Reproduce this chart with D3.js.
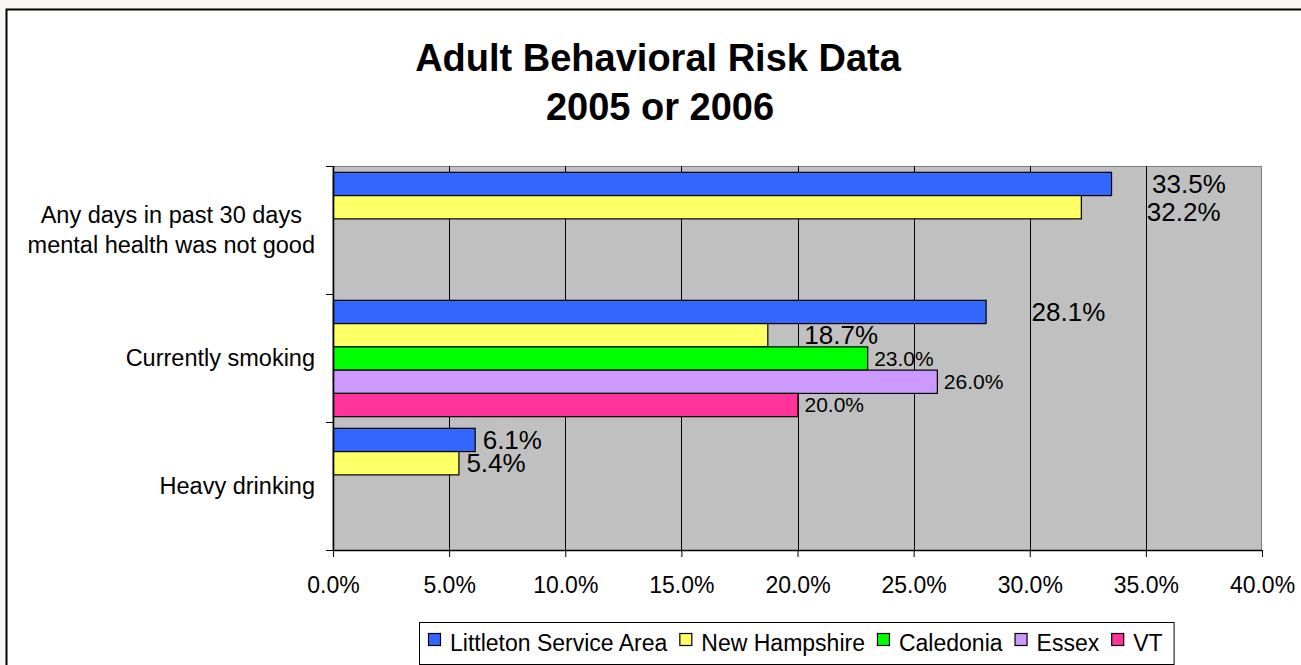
<!DOCTYPE html>
<html>
<head>
<meta charset="utf-8">
<script src="https://cdn.jsdelivr.net/npm/d3@7"></script>
<style>
  html, body { margin: 0; padding: 0; background: #f7f6f4; }
  svg { display: block; font-family: "Liberation Sans", Arial, sans-serif; }
</style>
</head>
<body>
<svg id="chart" width="1301" height="665"></svg>
<script>
// ---- data ----
const titleLines = ["Adult Behavioral Risk Data", "2005 or 2006"];
const categories = ["Any days in past 30 days\nmental health was not good", "Currently smoking", "Heavy drinking"];
const seriesNames = ["Littleton Service Area", "New Hampshire", "Caledonia", "Essex", "VT"];
const littleton    = [0.335, 0.281, 0.061];
const newHampshire = [0.322, 0.187, 0.054];
const caledonia    = [null, 0.230, null];
const essex        = [null, 0.260, null];
const vt           = [null, 0.200, null];
const tickValues = [0, 0.05, 0.10, 0.15, 0.20, 0.25, 0.30, 0.35, 0.40];

// ---- styles ----
const seriesColors = ["#3366FF", "#FFFF66", "#00FF00", "#CC99FF", "#FF3399"];
const labelFont = [26, 26, 21, 21, 21];
// manual label nudges (px) per series, per category
const labelDx = [[41, 46, 8], [66, 37, 8], [7, 7, 7], [7, 7, 7], [7, 7, 7]];
const labelDy = [[0, 0, 0], [5, 0, 0], [0, 0, 0], [0, 0, 0], [0, 0, 0]];

const seriesValues = [littleton, newHampshire, caledonia, essex, vt];

const svg = d3.select("#chart");

// chart area (white with black border)
svg.append("rect").attr("x", 6.5).attr("y", 9.5).attr("width", 1300).attr("height", 660)
  .attr("fill", "#ffffff").attr("stroke", "#000").attr("stroke-width", 2);

const plot = { left: 333, right: 1262, top: 166, bottom: 550 };

const x = d3.scaleLinear().domain([0, 0.4]).range([plot.left, plot.right]);
const y0 = d3.scaleBand().domain(categories).range([plot.top, plot.bottom]).padding(0);
const y1 = d3.scaleBand().domain(seriesNames).range([0, y0.bandwidth()]).paddingInner(0).paddingOuter(0.25);

// plot background
svg.append("rect").attr("x", plot.left).attr("y", plot.top + 0.5)
  .attr("width", plot.right - plot.left - 0.5).attr("height", plot.bottom - plot.top)
  .attr("fill", "#C0C0C0").attr("stroke", "#808080").attr("stroke-width", 1);

// gridlines
svg.append("g").selectAll("line").data(tickValues.filter(t => t > 0 && t < 0.4)).join("line")
  .attr("x1", d => Math.round(x(d)) + 0.5).attr("x2", d => Math.round(x(d)) + 0.5)
  .attr("y1", plot.top).attr("y2", plot.bottom)
  .attr("stroke", "#000").attr("stroke-width", 1);

// bars
const barData = [];
seriesValues.forEach((vals, si) => {
  vals.forEach((v, ci) => {
    if (v !== null) barData.push({ s: si, c: ci, v: v });
  });
});

svg.append("g").selectAll("rect").data(barData).join("rect")
  .attr("x", x(0) + 0.5)
  .attr("y", d => y0(categories[d.c]) + y1(seriesNames[d.s]) + 0.5)
  .attr("width", d => x(d.v) - x(0))
  .attr("height", y1.bandwidth())
  .attr("fill", d => seriesColors[d.s])
  .attr("stroke", "#000").attr("stroke-width", 1.2);

// data labels
svg.append("g").selectAll("text").data(barData).join("text")
  .attr("x", d => x(d.v) + labelDx[d.s][d.c])
  .attr("y", d => y0(categories[d.c]) + y1(seriesNames[d.s]) + y1.bandwidth() / 2 + 0.36 * labelFont[d.s] + labelDy[d.s][d.c])
  .attr("font-size", d => labelFont[d.s])
  .attr("fill", "#000")
  .text(d => d3.format(".1%")(d.v));

// x axis
const xAxis = d3.axisBottom(x).tickValues(tickValues).tickFormat(d3.format(".1%")).tickSize(7).tickPadding(20);
const gx = svg.append("g").attr("transform", `translate(0,${plot.bottom})`).call(xAxis);
gx.select(".domain").attr("stroke", "#000").attr("stroke-width", 1.5).attr("d", `M${plot.left},0.5H${plot.right}`);
gx.selectAll(".tick line").attr("stroke", "#000");
gx.selectAll(".tick text").attr("font-size", 23).attr("font-family", "Liberation Sans, Arial, sans-serif").attr("fill", "#000");

// y axis (category boundaries ticks)
svg.append("line").attr("x1", plot.left + 0.5).attr("x2", plot.left + 0.5)
  .attr("y1", plot.top).attr("y2", plot.bottom).attr("stroke", "#000").attr("stroke-width", 1.5);
const boundaries = categories.map(c => y0(c)).concat([plot.bottom]);
svg.append("g").selectAll("line").data(boundaries).join("line")
  .attr("x1", plot.left - 7).attr("x2", plot.left)
  .attr("y1", d => Math.round(d) + 0.5).attr("y2", d => Math.round(d) + 0.5)
  .attr("stroke", "#000").attr("stroke-width", 1);

// category labels: block right-aligned at 315, lines centered within block
const catG = svg.append("g");
const labelRight = 315;
categories.forEach(c => {
  const lines = c.split("\n");
  const cy = y0(c) + y0.bandwidth() / 2;
  const lh = 30;
  const nodes = lines.map((ln, i) => catG.append("text")
      .attr("y", cy + (i - (lines.length - 1) / 2) * lh + 8)
      .attr("text-anchor", "middle")
      .attr("font-size", 23.5)
      .attr("fill", "#000")
      .text(ln));
  const maxW = d3.max(nodes, n => n.node().getComputedTextLength());
  nodes.forEach(n => n.attr("x", labelRight - maxW / 2));
});

// title
const titleX = [658, 660];
const titleY = [71, 120];
titleLines.forEach((t, i) => {
  svg.append("text").attr("x", titleX[i]).attr("y", titleY[i])
    .attr("text-anchor", "middle").attr("font-size", 38).attr("font-weight", "bold")
    .attr("fill", "#000").text(t);
});

// legend
const legend = svg.append("g");
const legBox = legend.append("rect").attr("x", 419.5).attr("y", 622.5).attr("height", 42)
  .attr("fill", "#fff").attr("stroke", "#000").attr("stroke-width", 1);
let lx = 428;
seriesNames.forEach((name, i) => {
  legend.append("rect").attr("x", lx + 0.5).attr("y", 633.5).attr("width", 12).attr("height", 12)
    .attr("fill", seriesColors[i]).attr("stroke", "#000").attr("stroke-width", 1.2);
  const tx = lx + 22;
  const t = legend.append("text").attr("x", tx).attr("y", 651)
    .attr("font-size", 23).attr("fill", "#000").text(name);
  const w = t.node().getComputedTextLength();
  lx = tx + w + 12;
});
legBox.attr("width", lx - 419 - 1);
</script>
</body>
</html>
